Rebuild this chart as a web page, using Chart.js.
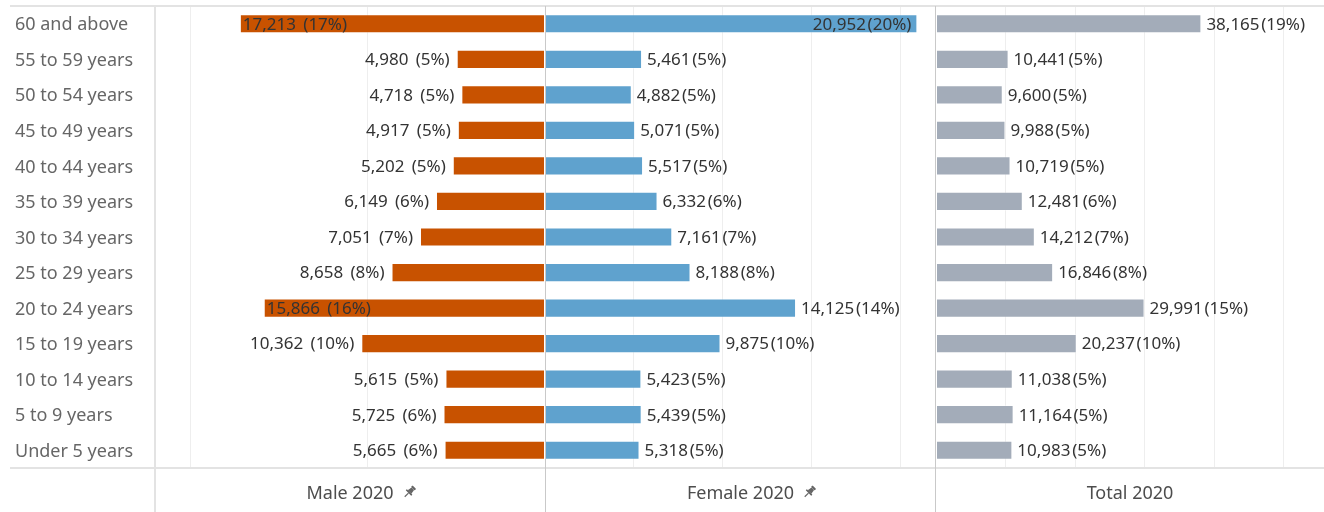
<!DOCTYPE html>
<html><head><meta charset="utf-8">
<script src="https://cdn.jsdelivr.net/npm/chart.js@4.4.1/dist/chart.umd.min.js"></script>
<style>
html,body{margin:0;padding:0;background:#fff;}
#wrap{position:relative;width:1324px;height:512px;overflow:hidden;font-family:"Noto Sans",sans-serif;background:#fff;}
canvas{position:absolute;top:0;}
.ln{position:absolute;}
.hdr{position:absolute;top:470px;height:44px;display:flex;align-items:center;justify-content:center;font-size:18px;color:#4d4d4d;}
.hdr span{position:relative;white-space:nowrap;}
.pin{position:absolute;left:100%;margin-left:8px;top:50%;transform:translateY(-50%);}
</style></head><body>
<div id="wrap">
  <canvas id="male" width="545" height="468" style="left:0"></canvas>
  <canvas id="female" width="391" height="468" style="left:545px"></canvas>
  <canvas id="total" width="388" height="468" style="left:936px"></canvas>

  <div class="ln" style="left:10px;top:5px;width:1314px;height:2px;background:#e3e3e3"></div>
  <div class="ln" style="left:10px;top:467px;width:1314px;height:2px;background:#e3e3e3"></div>
  <div class="ln" style="left:154px;top:5px;width:2px;height:507px;background:#e3e3e3"></div>
  <div class="ln" style="left:545px;top:6px;width:1px;height:506px;background:#c9c9c9"></div>
  <div class="ln" style="left:935px;top:6px;width:1px;height:506px;background:#c9c9c9"></div>

  <div class="hdr" style="left:155px;width:390px"><span>Male 2020<svg class="pin" width="15" height="15" viewBox="0 0 16 16"><g transform="rotate(45 8 8)" fill="#666"><rect x="5.3" y="0.8" width="5.4" height="2.2" rx="0.6"/><path d="M6.1 3h3.8l0.9 5H5.2z"/><rect x="3.8" y="7.8" width="8.4" height="1.8" rx="0.5"/><rect x="7.35" y="9.6" width="1.3" height="5.6"/></g></svg></span></div>
  <div class="hdr" style="left:545px;width:391px"><span>Female 2020<svg class="pin" width="15" height="15" viewBox="0 0 16 16"><g transform="rotate(45 8 8)" fill="#666"><rect x="5.3" y="0.8" width="5.4" height="2.2" rx="0.6"/><path d="M6.1 3h3.8l0.9 5H5.2z"/><rect x="3.8" y="7.8" width="8.4" height="1.8" rx="0.5"/><rect x="7.35" y="9.6" width="1.3" height="5.6"/></g></svg></span></div>
  <div class="hdr" style="left:936px;width:388px"><span>Total 2020</span></div>
</div>
<script>
const categories = ["60 and above","55 to 59 years","50 to 54 years","45 to 49 years","40 to 44 years","35 to 39 years","30 to 34 years","25 to 29 years","20 to 24 years","15 to 19 years","10 to 14 years","5 to 9 years","Under 5 years"];
const maleValues   = [17213,4980,4718,4917,5202,6149,7051,8658,15866,10362,5615,5725,5665];
const malePct      = [17,5,5,5,5,6,7,8,16,10,5,6,6];
const femaleValues = [20952,5461,4882,5071,5517,6332,7161,8188,14125,9875,5423,5439,5318];
const femalePct    = [20,5,5,5,5,6,7,8,14,10,5,5,5];
const totalValues  = [38165,10441,9600,9988,10719,12481,14212,16846,29991,20237,11038,11164,10983];
const totalPct     = [19,5,5,5,5,6,7,8,15,10,5,5,5];
const maleGrid   = [10000,20000];
const femaleGrid = [5000,10000,15000,20000];
const totalGrid  = [10000,20000,30000,40000,50000];

const fmt = v => v.toLocaleString('en-US');
const maleLabels   = maleValues.map((v,i)=>fmt(v)+'\u2009 ('+malePct[i]+'%)');
const femaleLabels = femaleValues.map((v,i)=>fmt(v)+'\u200A('+femalePct[i]+'%)');
const totalLabels  = totalValues.map((v,i)=>fmt(v)+'\u200A('+totalPct[i]+'%)');

const labelPlugin = {
  id:'vlabels',
  afterDatasetsDraw(chart, args, opts){
    const {ctx, chartArea} = chart;
    const meta = chart.getDatasetMeta(0);
    ctx.save();
    ctx.font = '17px "Noto Sans"';
    ctx.fillStyle = '#333';
    ctx.textBaseline = 'middle';
    meta.data.forEach((el,i)=>{
      const txt = opts.labels[i];
      const w = ctx.measureText(txt).width;
      let x, align;
      if (opts.dir < 0){
        x = el.x - 7; align = 'right';
        if (x - w < chartArea.left + 10) { x = el.x + 3; align = 'left'; }
      } else {
        x = el.x + 5; align = 'left';
        if (x + w > chartArea.right - 10) { x = el.x - 6; align = 'right'; }
      }
      ctx.textAlign = align;
      ctx.fillText(txt, x, el.y + 1);
    });
    ctx.restore();
  }
};

function makeChart(id, values, color, maxV, grid, reverse, labels, dir, showY){
  const yScale = {type:'category', display: showY, position:'left',
           grid:{display:false, drawTicks:false}, border:{display:false},
           ticks:{crossAlign:'far', color:'#666', font:{family:'"Noto Sans"', size:18}, padding:0, labelOffset:1.5}};
  if (showY) yScale.afterFit = s => { s.width = 140; s.paddingTop = 0; s.paddingBottom = 0; };
  return new Chart(document.getElementById(id), {
    type:'bar',
    data:{labels:categories, datasets:[{data:values, backgroundColor:color, borderColor:'rgba(255,255,255,0.35)', borderWidth:1, borderSkipped:false, barPercentage:1, categoryPercentage:0.54}]},
    plugins:[labelPlugin],
    options:{
      indexAxis:'y', responsive:false, animation:false,
      layout:{padding:{left: showY ? 15 : 0, top:6, right:0, bottom:0}},
      plugins:{legend:{display:false}, tooltip:{enabled:false}, vlabels:{labels:labels, dir:dir}},
      scales:{
        x:{type:'linear', min:0, max:maxV, reverse:reverse, position:'bottom',
           afterBuildTicks: s => { s.ticks = grid.map(v => ({value:v})); },
           ticks:{display:false},
           grid:{color:'#eeeeee', drawTicks:false, lineWidth:1},
           border:{display:false}},
        y:yScale
      }
    }
  });
}

makeChart('male', maleValues, '#c85200', 22000, maleGrid, true, maleLabels, -1, true);
makeChart('female', femaleValues, '#5fa2ce', 22000, femaleGrid, false, femaleLabels, 1, false);
makeChart('total', totalValues, '#a3acb9', 55800, totalGrid, false, totalLabels, 1, false);
</script>
</body></html>
